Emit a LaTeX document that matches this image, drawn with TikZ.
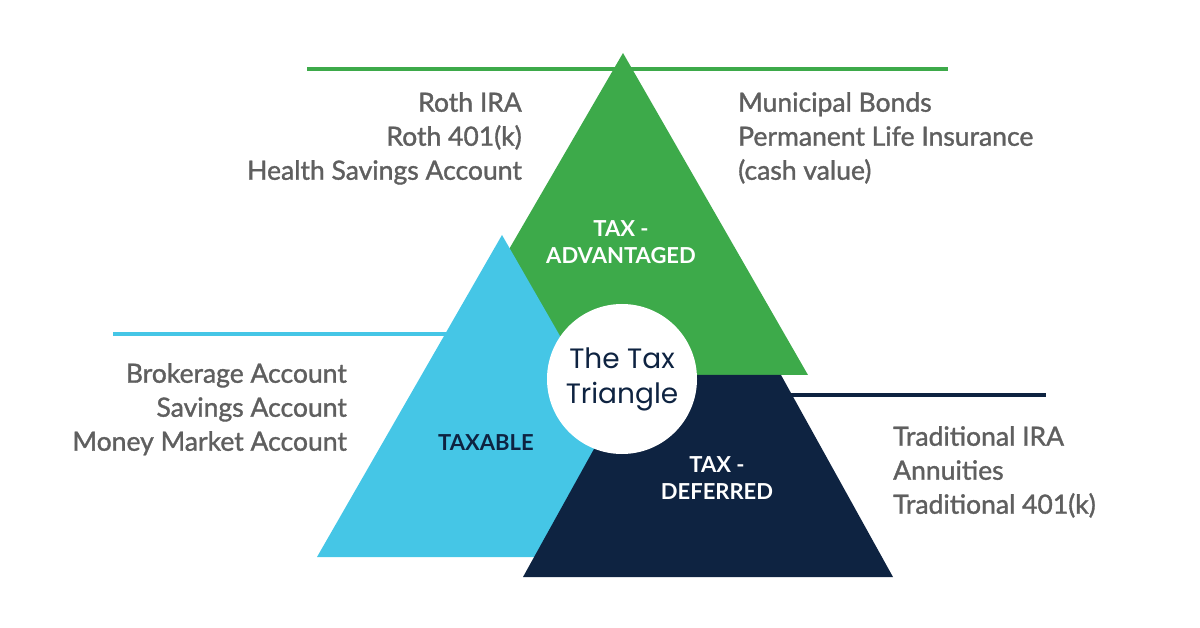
\documentclass[tikz,border=0pt]{standalone}
\usepackage{fontspec}
\setmainfont{Lato}
\newfontfamily\listfont{Lato}[FakeBold=1.3]
\newfontfamily\centerfont{Poppins}
\definecolor{tgreen}{HTML}{3DAA4A}
\definecolor{tblue}{HTML}{45C6E6}
\definecolor{tnavy}{HTML}{0E2341}
\definecolor{tgray}{HTML}{5F5F5F}
\tikzset{
  listtext/.style={text=tgray, font=\listfont\fontsize{26.5}{34}\selectfont, inner sep=0pt},
  tagtext/.style={font=\bfseries\fontsize{22}{27}\selectfont, align=center, inner sep=0pt},
  rule/.style={line width=4pt},
}
\begin{document}
\begin{tikzpicture}[x=1pt,y=-1pt]
\useasboundingbox (0,0) rectangle (1200,628);
% corners
\coordinate (gA) at (623,53);
\coordinate (gL) at (436,375);
\coordinate (gR) at (808,375);
\coordinate (bA) at (502,235);
\coordinate (bL) at (317,557);
\coordinate (bR) at (687,557);
\coordinate (nTL) at (635,375);
\coordinate (nTR) at (781,375);
\coordinate (nBL) at (523,577);
\coordinate (nBR) at (893,577);
% rule lines
\coordinate (glS) at (307,69);
\coordinate (glE) at (948,69);
\coordinate (blS) at (113,334);
\coordinate (blE) at (450,334);
\coordinate (nlS) at (780,395);
\coordinate (nlE) at (1046,395);
\draw[rule, tgreen, line width=3.6pt] (glS) -- (glE);
\draw[rule, tblue] (blS) -- (blE);
\draw[rule, tnavy] (nlS) -- (nlE);
% triangles
\fill[tgreen] (gA) -- (gL) -- (gR) -- cycle;
\fill[tblue] (bA) -- (bL) -- (bR) -- cycle;
\fill[tnavy] (nTL) -- (nTR) -- (nBR) -- (nBL) -- cycle;
% centre circle
\node[circle, fill=white, minimum size=150pt, inner sep=0pt, align=center,
      text=tnavy, font=\centerfont\fontsize{28}{35}\selectfont] (center) at (622,379)
  {The Tax\\Triangle};
% labels inside triangles
\node[tagtext, text=white] (adv) at (621,242) {TAX -\\ADVANTAGED};
\node[tagtext, text=tnavy] (taxable) at (486,443) {TAXABLE};
\node[tagtext, text=white] (def) at (717,478) {TAX -\\DEFERRED};
% lists
\node[listtext, anchor=north east, align=right] (roth) at (522,92)
  {Roth IRA\\Roth 401(k)\\Health Savings Account};
\node[listtext, anchor=north west, align=left] (muni) at (738,92)
  {Municipal Bonds\\Permanent Life Insurance\\(cash value)};
\node[listtext, anchor=north east, align=right] (broker) at (347,363)
  {Brokerage Account\\Savings Account\\Money Market Account};
\node[listtext, anchor=north west, align=left] (trad) at (893,426)
  {Traditional IRA\\Annuities\\Traditional 401(k)};
\end{tikzpicture}
\end{document}
